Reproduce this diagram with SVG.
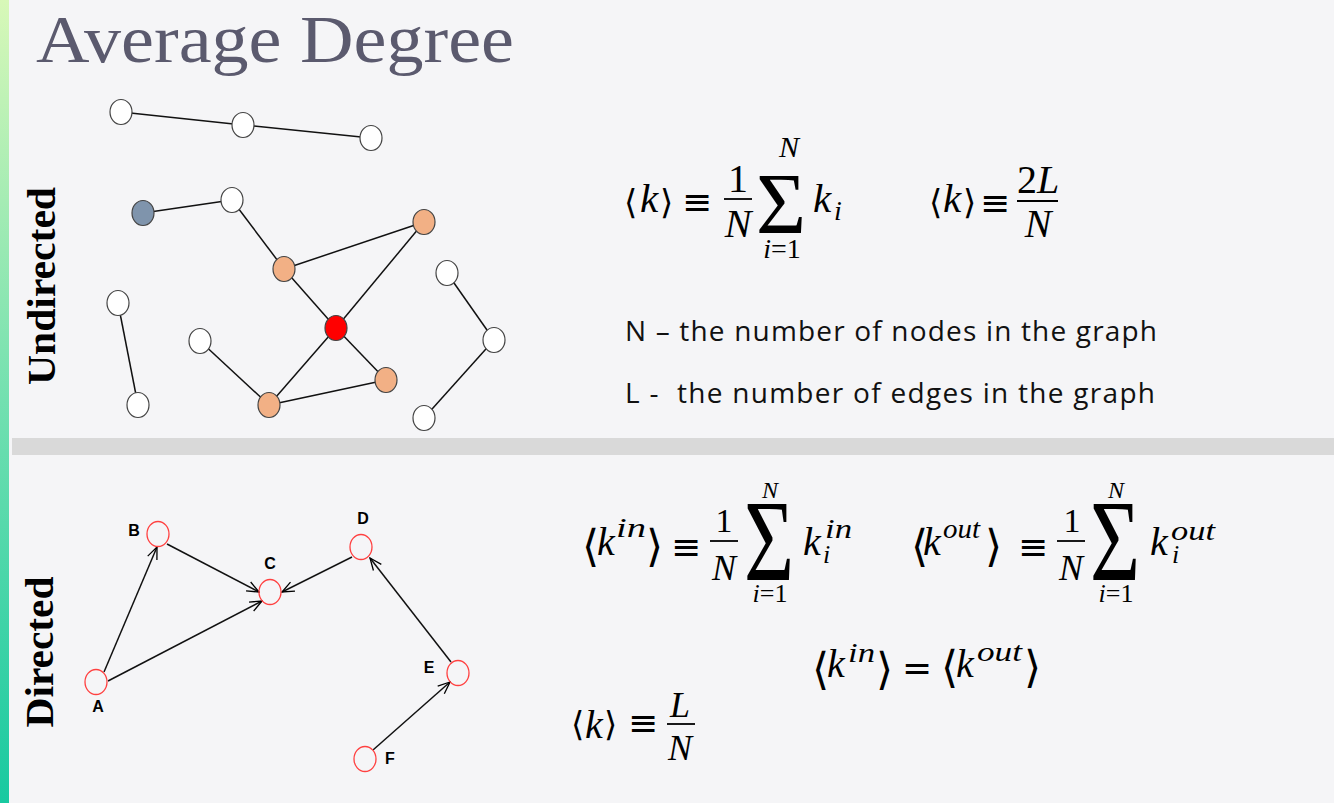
<svg xmlns="http://www.w3.org/2000/svg" width="1334" height="803" viewBox="0 0 1334 803">
<defs>
<linearGradient id="bar" x1="0" y1="0" x2="0" y2="1">
<stop offset="0" stop-color="#d8f8b8"/>
<stop offset="0.5" stop-color="#72e0b0"/>
<stop offset="1" stop-color="#18c9a0"/>
</linearGradient>
<marker id="ah" viewBox="0 0 14 12" refX="13" refY="6" markerWidth="14" markerHeight="12" orient="auto" markerUnits="userSpaceOnUse">
<path d="M1,1 L13,6 L1,11" fill="none" stroke="#000" stroke-width="1.3"/>
</marker>
<style>
.bg{fill:#f5f5f7}
.ue{stroke:#111;stroke-width:1.5;fill:none}
.de{stroke:#111;stroke-width:1.5;fill:none;marker-end:url(#ah)}
.un{stroke:#444;stroke-width:1.2}
.w{fill:#fff}
.o{fill:#f2b085}
.dn{fill:none;stroke:#ff4040;stroke-width:1.3}
.lab{font-family:"Liberation Sans",Arial,sans-serif;font-weight:bold;font-size:16px;fill:#000;text-anchor:middle}
.side{font-family:"Liberation Serif",serif;font-weight:bold;font-size:40px;fill:#000;text-anchor:middle}
.mi{font-family:"Liberation Serif",serif;font-style:italic;fill:#000}
.mo{font-family:"Liberation Serif",serif;fill:#000}
.br{font-family:"DejaVu Sans",sans-serif;fill:#000}
.eq{font-family:"DejaVu Sans",sans-serif;font-size:36px;fill:#000}
.mid{text-anchor:middle}
.txt{font-family:"Open Sans",sans-serif;font-size:28px;fill:#111}
.fl{stroke:#000;stroke-width:1.8}
</style>
</defs>
<rect class="bg" x="0" y="0" width="1334" height="803"/>
<rect x="0" y="0" width="9" height="803" fill="url(#bar)"/>
<rect x="12" y="438" width="1322" height="17" fill="#d9d9d9"/>

<text x="36" y="62" font-family="Liberation Serif, serif" font-size="68" fill="#5b5a6e" textLength="478" lengthAdjust="spacingAndGlyphs">Average Degree</text>

<text class="side" transform="translate(55,286) rotate(-90)" textLength="198" lengthAdjust="spacingAndGlyphs">Undirected</text>
<text class="side" transform="translate(53,652) rotate(-90)" textLength="151" lengthAdjust="spacingAndGlyphs">Directed</text>

<g id="undirected-edges">
<line class="ue" x1="121" y1="112" x2="243" y2="125"/>
<line class="ue" x1="243" y1="125" x2="371" y2="138"/>
<line class="ue" x1="143" y1="213" x2="232" y2="200"/>
<line class="ue" x1="232" y1="200" x2="284" y2="269"/>
<line class="ue" x1="284" y1="269" x2="424" y2="222"/>
<line class="ue" x1="284" y1="269" x2="336" y2="328"/>
<line class="ue" x1="424" y1="222" x2="336" y2="328"/>
<line class="ue" x1="336" y1="328" x2="386" y2="380"/>
<line class="ue" x1="336" y1="328" x2="269" y2="405"/>
<line class="ue" x1="269" y1="405" x2="386" y2="380"/>
<line class="ue" x1="200" y1="341" x2="269" y2="405"/>
<line class="ue" x1="118" y1="303" x2="138" y2="405"/>
<line class="ue" x1="447" y1="273" x2="494" y2="340"/>
<line class="ue" x1="494" y1="340" x2="424" y2="418"/>
</g>
<g id="u1"><ellipse class="un w" cx="121" cy="112" rx="11" ry="12.5"/></g>
<g id="u2"><ellipse class="un w" cx="243" cy="125" rx="11" ry="12.5"/></g>
<g id="u3"><ellipse class="un w" cx="371" cy="138" rx="11" ry="12.5"/></g>
<g id="u4"><ellipse class="un" fill="#7f94ac" cx="143" cy="213" rx="11" ry="12.5"/></g>
<g id="u5"><ellipse class="un w" cx="232" cy="200" rx="11" ry="12.5"/></g>
<g id="u6"><ellipse class="un o" cx="284" cy="269" rx="11" ry="12.5"/></g>
<g id="u7"><ellipse class="un o" cx="424" cy="222" rx="11" ry="12.5"/></g>
<g id="u8"><ellipse class="un" fill="#ff0000" cx="336" cy="328" rx="11" ry="12.5"/></g>
<g id="u9"><ellipse class="un o" cx="386" cy="380" rx="11" ry="12.5"/></g>
<g id="u10"><ellipse class="un o" cx="269" cy="405" rx="11" ry="12.5"/></g>
<g id="u11"><ellipse class="un w" cx="200" cy="341" rx="11" ry="12.5"/></g>
<g id="u12"><ellipse class="un w" cx="118" cy="303" rx="11" ry="12.5"/></g>
<g id="u13"><ellipse class="un w" cx="138" cy="405" rx="11" ry="12.5"/></g>
<g id="u14"><ellipse class="un w" cx="447" cy="273" rx="11" ry="12.5"/></g>
<g id="u15"><ellipse class="un w" cx="494" cy="340" rx="11" ry="12.5"/></g>
<g id="u16"><ellipse class="un w" cx="424" cy="418" rx="11" ry="12.5"/></g>

<g id="directed-edges">
<line class="de" x1="104" y1="672" x2="157" y2="547"/>
<line class="de" x1="167" y1="544" x2="259" y2="592"/>
<line class="de" x1="108" y1="681" x2="262" y2="601"/>
<line class="de" x1="352" y1="557" x2="282" y2="592"/>
<line class="de" x1="451" y1="662" x2="370" y2="558"/>
<line class="de" x1="373" y1="750" x2="450" y2="682"/>
</g>
<g id="nA"><ellipse class="dn" cx="96" cy="682" rx="11" ry="12.5"/><text class="lab" x="98" y="712">A</text></g>
<g id="nB"><ellipse class="dn" cx="158" cy="534" rx="11" ry="12.5"/><text class="lab" x="134" y="536">B</text></g>
<g id="nC"><ellipse class="dn" cx="270" cy="592" rx="11" ry="12.5"/><text class="lab" x="270" y="569">C</text></g>
<g id="nD"><ellipse class="dn" cx="361" cy="547" rx="11" ry="12.5"/><text class="lab" x="363" y="524">D</text></g>
<g id="nE"><ellipse class="dn" cx="458" cy="673" rx="11" ry="12.5"/><text class="lab" x="429" y="673">E</text></g>
<g id="nF"><ellipse class="dn" cx="365" cy="759" rx="11" ry="12.5"/><text class="lab" x="390" y="764">F</text></g>

<g id="formula-undirected-1">
<text class="br" x="624" y="214" font-size="34">⟨</text>
<text class="mi" x="640" y="212" font-size="41">k</text>
<text class="br" x="660" y="214" font-size="34">⟩</text>
<text class="eq" x="682" y="214">≡</text>
<text class="mo mid" x="738" y="192" font-size="40">1</text>
<line class="fl" x1="724" y1="199" x2="752" y2="199"/>
<text class="mi mid" x="738" y="237" font-size="40">N</text>
<text class="mo mid" x="781" y="233" font-size="86">Σ</text>
<text class="mi mid" x="789" y="157" font-size="30">N</text>
<text class="mo mid" x="782" y="258" font-size="28"><tspan font-style="italic">i</tspan>=1</text>
<text class="mi" x="813" y="212" font-size="41">k</text>
<text class="mi" x="834" y="220" font-size="28">i</text>
</g>
<g id="formula-undirected-2">
<text class="br" x="929" y="214" font-size="34">⟨</text>
<text class="mi" x="943" y="212" font-size="41">k</text>
<text class="br" x="963" y="214" font-size="34">⟩</text>
<text class="eq" x="980" y="215">≡</text>
<text class="mo mid" x="1038" y="193" font-size="40">2<tspan font-style="italic">L</tspan></text>
<line class="fl" x1="1017" y1="201" x2="1058" y2="201"/>
<text class="mi mid" x="1038" y="237" font-size="40">N</text>
</g>
<g id="legend">
<text class="txt" x="625" y="341" textLength="532" lengthAdjust="spacing">N – the number of nodes in the graph</text>
<text class="txt" x="625" y="403" textLength="530" lengthAdjust="spacing" xml:space="preserve">L -  the number of edges in the graph</text>
</g>

<g id="formula-directed-in">
<text class="br" x="582" y="561" font-size="44">⟨</text>
<text class="mi" x="597" y="555" font-size="40">k</text>
<text class="mi" x="616" y="537" font-size="28" textLength="30" lengthAdjust="spacingAndGlyphs">in</text>
<text class="br" x="646" y="561" font-size="44">⟩</text>
<text class="eq" x="671" y="559">≡</text>
<text class="mo mid" x="724" y="532" font-size="34">1</text>
<line class="fl" x1="710" y1="541" x2="738" y2="541"/>
<text class="mi mid" x="724" y="580" font-size="36">N</text>
<text class="mo mid" transform="translate(769,580) scale(1,1.35)" font-size="86">Σ</text>
<text class="mi mid" x="770" y="498" font-size="24">N</text>
<text class="mo mid" x="770" y="602" font-size="26"><tspan font-style="italic">i</tspan>=1</text>
<text class="mi" x="803" y="555" font-size="40">k</text>
<text class="mi" x="825" y="538" font-size="28" textLength="27" lengthAdjust="spacingAndGlyphs">in</text>
<text class="mi" x="823" y="563" font-size="26">i</text>
</g>
<g id="formula-directed-out">
<text class="br" x="911" y="561" font-size="44">⟨</text>
<text class="mi" x="923" y="555" font-size="40">k</text>
<text class="mi" x="943" y="538" font-size="28" textLength="37" lengthAdjust="spacingAndGlyphs">out</text>
<text class="br" x="985" y="561" font-size="44">⟩</text>
<text class="eq" x="1018" y="559">≡</text>
<text class="mo mid" x="1072" y="532" font-size="34">1</text>
<line class="fl" x1="1057" y1="541" x2="1085" y2="541"/>
<text class="mi mid" x="1071" y="580" font-size="36">N</text>
<text class="mo mid" transform="translate(1115,580) scale(1,1.35)" font-size="86">Σ</text>
<text class="mi mid" x="1116" y="498" font-size="24">N</text>
<text class="mo mid" x="1116" y="602" font-size="26"><tspan font-style="italic">i</tspan>=1</text>
<text class="mi" x="1150" y="555" font-size="40">k</text>
<text class="mi" x="1171" y="540" font-size="28" textLength="44" lengthAdjust="spacingAndGlyphs">out</text>
<text class="mi" x="1172" y="563" font-size="26">i</text>
</g>
<g id="formula-equal">
<text class="br" x="812" y="684" font-size="44">⟨</text>
<text class="mi" x="827" y="677" font-size="40">k</text>
<text class="mi" x="848" y="662" font-size="28" textLength="27" lengthAdjust="spacingAndGlyphs">in</text>
<text class="br" x="876" y="684" font-size="44">⟩</text>
<text class="eq" x="902" y="680" font-size="38">=</text>
<text class="br" x="941" y="682" font-size="44">⟨</text>
<text class="mi" x="956" y="677" font-size="40">k</text>
<text class="mi" x="977" y="661" font-size="28" textLength="45" lengthAdjust="spacingAndGlyphs">out</text>
<text class="br" x="1024" y="682" font-size="44">⟩</text>
</g>
<g id="formula-directed-avg">
<text class="br" x="571" y="736" font-size="34">⟨</text>
<text class="mi" x="585" y="738" font-size="40">k</text>
<text class="br" x="604" y="736" font-size="34">⟩</text>
<text class="eq" x="628" y="735">≡</text>
<text class="mi mid" x="680" y="717" font-size="36">L</text>
<line class="fl" x1="667" y1="724" x2="695" y2="724"/>
<text class="mi mid" x="680" y="760" font-size="36">N</text>
</g>
</svg>
